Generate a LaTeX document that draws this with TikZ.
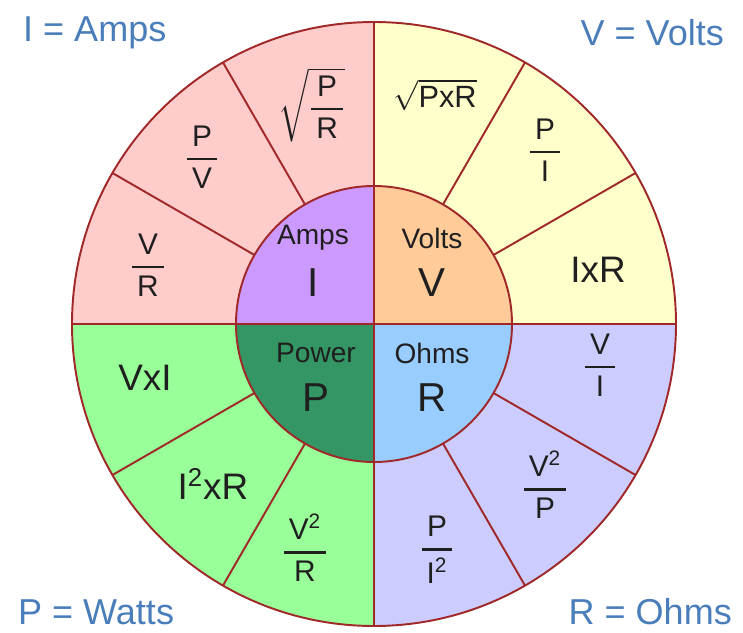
\documentclass[tikz,border=0pt]{standalone}
\usepackage{amsmath}
\usepackage{fontspec}
\setmainfont{Liberation Sans}

\definecolor{rim}{RGB}{160,40,40}
\definecolor{ampq}{RGB}{255,204,204}
\definecolor{voltq}{RGB}{255,255,204}
\definecolor{powq}{RGB}{153,255,153}
\definecolor{ohmq}{RGB}{204,204,255}
\definecolor{ampc}{RGB}{204,153,255}
\definecolor{voltc}{RGB}{255,204,153}
\definecolor{powc}{RGB}{51,150,100}
\definecolor{ohmc}{RGB}{153,204,255}
\definecolor{keyc}{RGB}{74,126,187}

\newcommand{\ohmfrac}[2]{\genfrac{}{}{1.4pt}{0}{\,\text{#1}\,}{\,\text{#2}\,}}

\tikzset{
  fml/.style={text=black!88, font=\fontsize{21}{25}\selectfont},
  frc/.style={text=black!88, font=\fontsize{17}{20}\selectfont},
  qty/.style={text=black!88, font=\fontsize{16}{19}\selectfont},
  sym/.style={text=black!88, font=\fontsize{23}{27}\selectfont},
  key/.style={text=keyc, font=\fontsize{20.5}{24}\selectfont}
}

\begin{document}
\begin{tikzpicture}[scale=0.02]
    \useasboundingbox (-374,-308) rectangle (369,324);
    \coordinate (O) at (0,0);

    \fill[ampq] (O) -- (90:302) arc (90:180:302) -- cycle;
    \fill[voltq] (O) -- (0:302) arc (0:90:302) -- cycle;
    \fill[powq] (O) -- (180:302) arc (180:270:302) -- cycle;
    \fill[ohmq] (O) -- (270:302) arc (270:360:302) -- cycle;

    \fill[ampc] (O) -- (90:138) arc (90:180:138) -- cycle;
    \fill[voltc] (O) -- (0:138) arc (0:90:138) -- cycle;
    \fill[powc] (O) -- (180:138) arc (180:270:138) -- cycle;
    \fill[ohmc] (O) -- (270:138) arc (270:360:138) -- cycle;

    \draw[rim, line width=1.1pt] (O) circle (302);
    \draw[rim, line width=1.1pt] (O) circle (138);
    \draw[rim, line width=1.1pt] (180:302) -- (0:302);
    \draw[rim, line width=1.1pt] (90:302) -- (270:302);
    \foreach \a in {30,60,120,150,210,240,300,330}
        \draw[rim, line width=1.1pt] (\a:138) -- (\a:302);

    \node[qty] (amps) at (-61,86) {Amps};
    \node[sym] (ia) at (-61,41) {I};
    \node[qty] (volts) at (58,86) {Volts};
    \node[sym] (va) at (58,41) {V};
    \node[qty] (power) at (-58,-29) {Power};
    \node[sym] (pa) at (-58,-74) {P};
    \node[qty] (ohms) at (58,-29) {Ohms};
    \node[sym] (ra) at (58,-74) {R};

    \node[frc] (ipr) at (-62,219) {$\sqrt{\ohmfrac{P}{R}}$};
    \node[frc] (ipv) at (-172,167) {$\ohmfrac{P}{V}$};
    \node[frc] (ivr) at (-226,59) {$\ohmfrac{V}{R}$};
    \node[fml, font=\fontsize{17.5}{21}\selectfont] (vpr) at (61,229) {$\sqrt{\text{PxR}}$};
    \node[frc] (vpi) at (171,174) {$\ohmfrac{P}{I}$};
    \node[fml] (vir) at (224,54) {IxR};
    \node[fml] (pvi) at (-229,-54) {VxI};
    \node[fml] (pir) at (-161,-160) {I\textsuperscript{2}xR};
    \node[frc] (pvr) at (-69,-224) {$\ohmfrac{V\textsuperscript{2}}{R}$};
    \node[frc] (rvi) at (226,-41) {$\ohmfrac{V}{I}$};
    \node[frc] (rvp) at (171,-161) {$\ohmfrac{V\textsuperscript{2}}{P}$};
    \node[frc] (rpi) at (63,-226) {$\ohmfrac{P}{I\textsuperscript{2}}$};

    \node[key, anchor=west] (kamps) at (-357,291) {I = Amps};
    \node[key, anchor=east] (kvolts) at (356,291) {V = Volts};
    \node[key, anchor=west] (kwatts) at (-362,-288) {P = Watts};
    \node[key, anchor=east] (kohms) at (364,-288) {R = Ohms};
\end{tikzpicture}
\end{document}
